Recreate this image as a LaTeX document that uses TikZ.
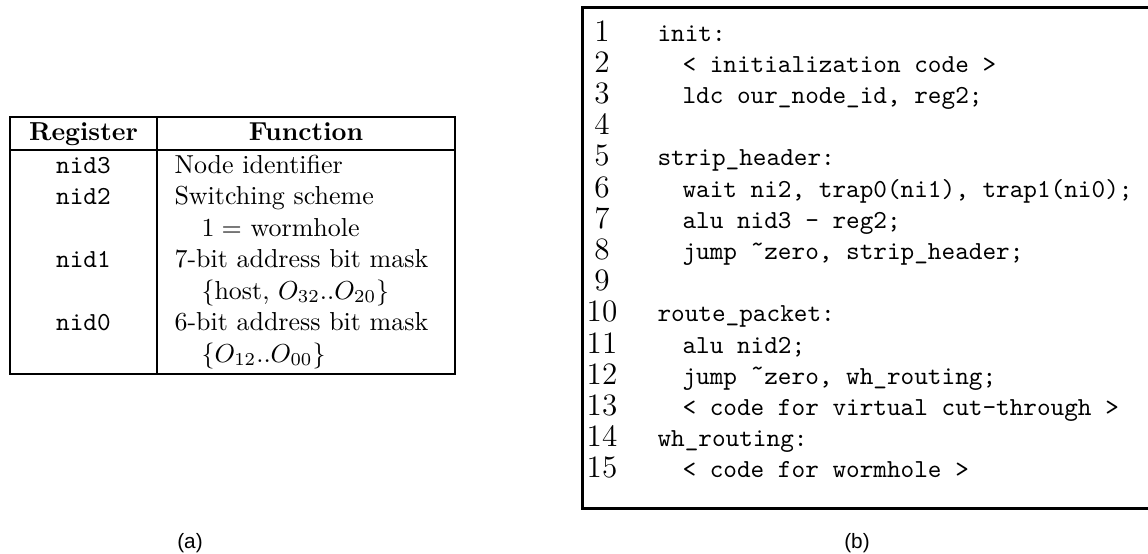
\documentclass[tikz,border=0pt]{standalone}
\usepackage{fontspec}
\newfontfamily\labelfont{Liberation Sans}
\newcommand{\hitilde}{\raisebox{0.28em}{\textasciitilde}}
\begin{document}
\frenchspacing
\begin{tikzpicture}[x=0.385pt,y=-0.385pt,
  txt/.style={inner sep=0pt, anchor=base west},
  ctr/.style={inner sep=0pt, anchor=base},
  code/.style={txt, font=\ttfamily},
  num/.style={ctr, font=\fontsize{12}{14}\selectfont},
  hdr/.style={ctr, font=\bfseries},
  reg/.style={ctr, font=\ttfamily},
  sub/.style={ctr, font={\labelfont\fontsize{8}{10}\selectfont}},
  tline/.style={line width=0.6pt},
  boxline/.style={line width=1.15pt}]
\useasboundingbox (0,0) rectangle (1148,553);
\begin{scope}
\clip (0,0) rectangle (1148,553);
\draw[boxline] (582,7) rectangle (1170,508);
\end{scope}
% ---- table (a)
\draw[tline] (10,117) rectangle (455,374);
\draw[tline] (10,150) -- (455,150);
\draw[tline] (157,117) -- (157,374);
\node[hdr] (hreg) at (83.5,140) {Register};
\node[hdr] (hfun) at (306,140) {Function};
\node[reg] (r3) at (83.5,173) {nid3};
\node[reg] (r2) at (83.5,204.5) {nid2};
\node[reg] (r1) at (83.5,267.5) {nid1};
\node[reg] (r0) at (83.5,330.5) {nid0};
\node[txt] (f3) at (174,173) {Node identifier};
\node[txt] (f2) at (174,204.5) {Switching scheme};
\node[txt] (f2b) at (201,236) {$1 =$ wormhole};
\node[txt] (f1) at (174,267.5) {7-bit address bit mask};
\node[txt] (f1b) at (201,299) {$\{$host, $O_{32}..O_{20}\}$};
\node[txt] (f0) at (174,330.5) {6-bit address bit mask};
\node[txt] (f0b) at (201,362) {$\{O_{12}..O_{00}\}$};
% ---- code (b)
\foreach \k in {1,...,15}{
  \node[num] (n\k) at (602,{41+31.2*(\k-1)}) {\k};
}
\node[code] (c1) at (657,41) {init:};
\node[code] (c2) at (682,72.2) {< initialization code >};
\node[code] (c3) at (682,103.4) {ldc our\_node\_id, reg2;};
\node[code] (c5) at (657,165.8) {strip\_header:};
\node[code] (c6) at (682,197) {wait ni2, trap0(ni1), trap1(ni0);};
\node[code] (c7) at (682,228.2) {alu nid3 - reg2;};
\node[code] (c8) at (682,259.4) {jump \hitilde zero, strip\_header;};
\node[code] (c10) at (657,321.8) {route\_packet:};
\node[code] (c11) at (682,353) {alu nid2;};
\node[code] (c12) at (682,384.2) {jump \hitilde zero, wh\_routing;};
\node[code] (c13) at (682,415.4) {< code for virtual cut-through >};
\node[code] (c14) at (657,446.6) {wh\_routing:};
\node[code] (c15) at (682,477.8) {< code for wormhole >};
% ---- captions
\node[sub] (capa) at (190,548) {(a)};
\node[sub] (capb) at (857,548) {(b)};
\end{tikzpicture}
\end{document}
